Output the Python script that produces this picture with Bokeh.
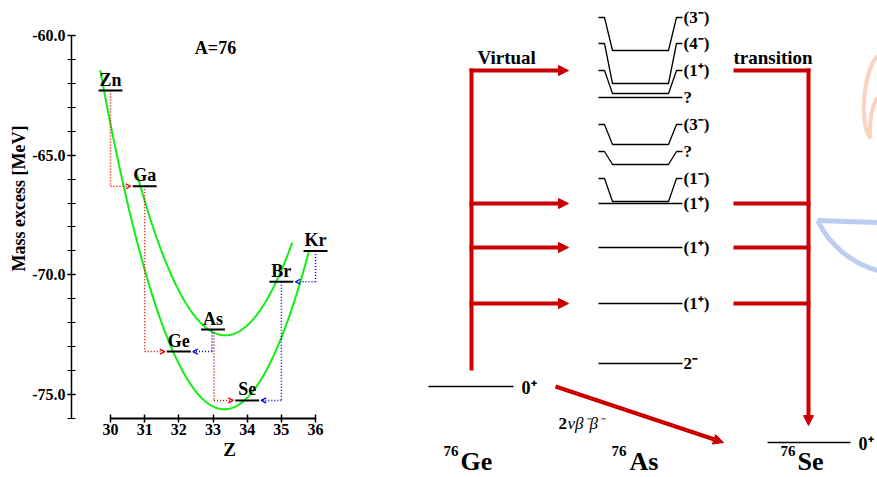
import numpy as np
from bokeh.plotting import figure
from bokeh.layouts import row
from bokeh.models import (Range1d, SingleIntervalTicker, PrintfTickFormatter,
                          Arrow, OpenHead, NormalHead, Label)
from bokeh.core.properties import value
from bokeh.embed import file_html
from bokeh.resources import INLINE

# ---------------- A = 76 isobar chain: mass excess vs. Z ----------------
elements = ["Zn", "Ga", "Ge", "As", "Se", "Br", "Kr"]
proton_number = [30, 31, 32, 33, 34, 35, 36]
mass_excess = [-62.30, -66.30, -73.21, -72.29, -75.25, -70.29, -69.01]  # MeV

beta_minus_decays = [("Zn", "Ga"), ("Ga", "Ge"), ("As", "Se")]
beta_plus_decays = [("As", "Ge"), ("Br", "Se"), ("Kr", "Br")]

# mass parabolas: vertex Z, vertex mass excess [MeV], curvature [MeV], Z extent
even_even_parabola = dict(z0=33.33, m0=-75.62, k=1.075, z_lo=29.70, z_hi=35.80)
odd_odd_parabola = dict(z0=33.36, m0=-72.53, k=1.01, z_lo=30.78, z_hi=35.32)

# ---------------- 76Ge -> 76Se level scheme through 76As ----------------
as_spins = ["(3\u207b)", "(4\u207b)", "(1\u207a)", "?", "(3\u207b)", "?",
            "(1\u207b)", "(1\u207a)", "(1\u207a)", "(1\u207a)", "2\u207b"]
as_level_height = [50, 83, 93, 97, 144, 164, 201, 203, 247, 303, 363]
as_label_height = [17, 43, 70, 97, 124, 151, 178, 203, 247, 303, 363]
ge_ground_height = 386
se_ground_height = 442
nuclides = [("76", "Ge"), ("76", "As"), ("76", "Se")]

FONT = "Liberation Serif"
SERIF = value(FONT)
RED = "#cc0000"
DOT_RED = "#e00000"
DOT_BLUE = "#0000e0"
GREEN = "#11ee11"

# ======================= left panel =======================
PX_Z = 34.17     # pixels per unit Z
PX_M = 23.93     # pixels per MeV
LEFT_W, H = 420, 477


def z_at(px):
    return 30 + (px - 110) / PX_Z


def m_at(py):
    return -60.0 - (py - 35) / PX_M


left = figure(width=LEFT_W, height=H,
              x_range=Range1d(z_at(0), z_at(LEFT_W)),
              y_range=Range1d(m_at(H), m_at(0)),
              output_backend="svg", toolbar_location=None, min_border=0)
left.grid.visible = False
left.outline_line_color = None

xa = left.xaxis[0]
xa.fixed_location = -76
xa.ticker = SingleIntervalTicker(interval=1, num_minor_ticks=0)
xa.bounds = (30, 36)
xa.axis_line_width = 2
xa.major_tick_in = 4
xa.major_tick_out = 4
xa.major_tick_line_width = 1.5
xa.minor_tick_line_color = None
xa.major_label_standoff = 2
xa.major_label_text_font = FONT
xa.major_label_text_font_style = "bold"
xa.major_label_text_font_size = "16px"
xa.major_label_text_color = "black"

ya = left.yaxis[0]
ya.fixed_location = z_at(71)
ya.ticker = SingleIntervalTicker(interval=5, num_minor_ticks=5)
ya.formatter = PrintfTickFormatter(format="%.1f")
ya.bounds = (-76, -60)
ya.axis_line_width = 1.5
ya.major_tick_in = 4
ya.major_tick_out = 4
ya.minor_tick_in = 4
ya.minor_tick_out = 4
ya.major_tick_line_width = 1.5
ya.minor_tick_line_width = 1.2
ya.minor_tick_line_color = "black"
ya.major_label_standoff = 2
ya.major_label_text_font = FONT
ya.major_label_text_font_style = "bold"
ya.major_label_text_font_size = "16px"
ya.major_label_text_color = "black"

for txt, px, py, size, ang in (("Mass excess [MeV]", 18, 198, "18px", np.pi / 2),
                               ("Z", 229, 449, "19px", 0),
                               ("A=76", 215, 47, "18px", 0)):
    left.add_layout(Label(x=z_at(px), y=m_at(py), text=txt, angle=ang,
                          text_font=FONT, text_font_style="bold", text_font_size=size,
                          text_color="black", text_align="center", text_baseline="middle"))

# mass parabolas
for par in (even_even_parabola, odd_odd_parabola):
    zz = np.linspace(par["z_lo"], par["z_hi"], 200)
    left.line(zz, par["m0"] + par["k"] * (zz - par["z0"]) ** 2, line_color=GREEN, line_width=2)

# decay paths (dotted, open arrow heads)
zpos = dict(zip(elements, proton_number))
mpos = dict(zip(elements, mass_excess))
HALF = 0.35
for pairs, col, side, off in ((beta_minus_decays, DOT_RED, -1, 0.03),
                              (beta_plus_decays, DOT_BLUE, 1, -0.03)):
    for parent, daughter in pairs:
        zp = zpos[parent] + (off if parent == "As" else 0)
        left.segment(zp, mpos[parent], zp, mpos[daughter], line_color=col,
                     line_width=1.5, line_dash="1 2")
        left.add_layout(Arrow(end=OpenHead(size=5, line_color=col, line_width=1.3),
                              x_start=zp, y_start=mpos[daughter],
                              x_end=zpos[daughter] + side * (HALF + 0.06), y_end=mpos[daughter],
                              line_color=col, line_width=1.5, line_dash="1 2"))

# isobar levels with element names
left.segment([z - HALF for z in proton_number], mass_excess,
             [z + HALF for z in proton_number], mass_excess,
             line_color="black", line_width=2)
left.text(proton_number, mass_excess, text=elements, text_font=SERIF,
          text_font_style="bold", text_font_size="18px", text_align="center",
          text_baseline="bottom", y_offset=-1, text_color="black")

# ======================= right panel =======================
RIGHT_W = 877 - LEFT_W
right = figure(width=RIGHT_W, height=H, x_range=Range1d(LEFT_W, 877), y_range=Range1d(H, 0),
               output_backend="svg", toolbar_location=None, min_border=0)
right.axis.visible = False
right.grid.visible = False
right.outline_line_color = None

# faint logo in the corner
right.bezier(x0=[877, 870], y0=[55, 138], x1=[870, 877], y1=[138, 97],
             cx0=[862, 868], cy0=[72, 122], cx1=[859, 872], cy1=[125, 104],
             line_color="#fcd3c1", line_width=4)
right.bezier(x0=[817], y0=[220], x1=[877], y1=[270], cx0=[830], cy0=[246],
             cx1=[852], cy1=[263], line_color="#bdcdf2", line_width=5)
right.segment(817, 220, 877, 222, line_color="#bdcdf2", line_width=5)

# 76As levels (label bracket where label and level heights differ)
xs, ys = [], []
for lv, lb in zip(as_level_height, as_label_height):
    xs.append([598, 604, 612, 668, 676, 682])
    ys.append([lb, lb, lv, lv, lb, lb])
right.multi_line(xs, ys, line_color="black", line_width=1.3)
right.text([683] * len(as_spins), as_label_height, text=as_spins, text_font=SERIF,
           text_font_style="bold", text_font_size="17px", text_baseline="middle",
           text_color="black")

# ground states
right.segment(428, ge_ground_height, 513, ge_ground_height, line_color="black", line_width=1.3)
right.segment(767, se_ground_height, 850, se_ground_height, line_color="black", line_width=1.3)
right.text([521, 858], [ge_ground_height + 1, se_ground_height + 1], text=["0\u207a", "0\u207a"],
           text_font=SERIF, text_font_style="bold", text_font_size="18px",
           text_baseline="middle", text_color="black")

# virtual transitions through the 1+ states of 76As
virtual = [h for s, h in zip(as_spins, as_label_height) if s == "(1\u207a)"]
right.segment(471, min(virtual) - 2, 471, ge_ground_height - 16, line_color=RED, line_width=4)
for h in virtual:
    right.add_layout(Arrow(end=NormalHead(size=10, fill_color=RED, line_color=RED, line_width=1),
                           x_start=469, y_start=h, x_end=568, y_end=h,
                           line_color=RED, line_width=4))
right.segment([733] * len(virtual), virtual, [810] * len(virtual), virtual,
              line_color=RED, line_width=4)
right.add_layout(Arrow(end=NormalHead(size=10, fill_color=RED, line_color=RED, line_width=1),
                       x_start=808, y_start=min(virtual) - 2, x_end=808,
                       y_end=se_ground_height - 17, line_color=RED, line_width=4))

# two-neutrino double beta decay
right.add_layout(Arrow(end=NormalHead(size=10, fill_color=RED, line_color=RED, line_width=1),
                       x_start=555, y_start=ge_ground_height, x_end=723, y_end=se_ground_height,
                       line_color=RED, line_width=4))
right.text([558], [423], text=["2"], text_font=SERIF, text_font_style="bold",
           text_font_size="17px", text_baseline="middle", text_color="black")
right.text([567], [423], text=["\u03bd\u03b2\u207b\u03b2\u207b"], text_font=SERIF,
           text_font_style="italic", text_font_size="17px", text_baseline="middle",
           text_color="black")

right.text([477, 733], [57, 57], text=["Virtual", "transition"], text_font=SERIF,
           text_font_style="bold", text_font_size="19px", text_baseline="middle",
           text_color="black")

# nuclide names
mass_x = [443, 611, 780]
sym_x = [460, 629, 797]
right.text(mass_x, [450] * 3, text=[a for a, _ in nuclides], text_font=SERIF,
           text_font_style="bold", text_font_size="15px", text_baseline="middle",
           text_color="black")
right.text(sym_x, [461] * 3, text=[s for _, s in nuclides], text_font=SERIF,
           text_font_style="bold", text_font_size="26px", text_baseline="middle",
           text_color="black")

layout = row(left, right)
open("out.html", "w").write(file_html(layout, INLINE))
